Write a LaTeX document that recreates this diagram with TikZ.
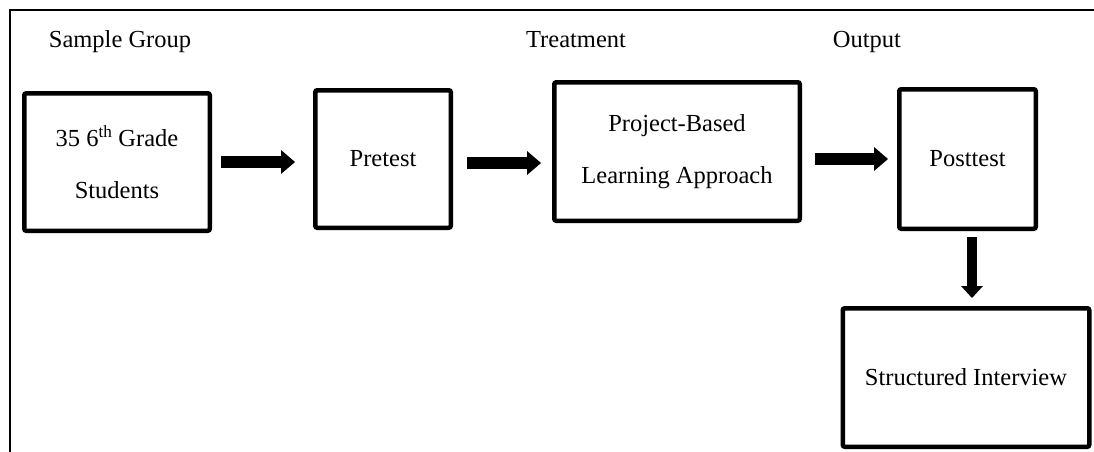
\documentclass[tikz,border=0pt]{standalone}
\usepackage{fontspec}
\setmainfont{Liberation Serif}
\usetikzlibrary{arrows.meta}
\tikzstyle{block} = [rectangle, draw, line width=4.5pt, rounded corners=2pt,
	align=center, inner sep=0pt, font=\fontsize{24.5}{52}\selectfont]
\tikzstyle{heading} = [inner sep=0pt, anchor=base, font=\fontsize{24.5}{30}\selectfont]
\tikzstyle{line} = [draw, line width=12.5pt,
	-{Triangle[length=14pt,width=24pt,line width=0pt]}]

\begin{document}
\begin{tikzpicture}[x=1pt, y=-1pt]
	\useasboundingbox (0,0) rectangle (1094,452);
	% Frame
	\draw[line width=2.5pt] (10,452) -- (10,10) -- (1094,10);
	% Place nodes
	\node [heading] (group) at (120,48) {Sample Group};
	\node [heading] (treatment) at (576,48) {Treatment};
	\node [heading] (output) at (867,48) {Output};
	\node [block, minimum width=185.5pt, minimum height=137.5pt] (students) at (117,162) {35 6\textsuperscript{th} Grade\\Students};
	\node [block, minimum width=135.5pt, minimum height=137.5pt] (pretest) at (383,159) {Pretest};
	\node [block, minimum width=245.5pt, minimum height=138.5pt] (pbl) at (677,151.5) {Project-Based\\Learning Approach};
	\node [block, minimum width=136.5pt, minimum height=139.5pt] (posttest) at (967.5,159) {Posttest};
	\node [block, minimum width=246.5pt, minimum height=138.5pt] (interview) at (966,377.5) {Structured Interview};
	% Draw edges
	\path [line, shorten <=9pt, shorten >=18pt] (students.east) -- (students.east -| pretest.west);
	\path [line, shorten <=14pt, shorten >=11pt] ([yshift=-4pt]pretest.east) -- ([yshift=-4pt]pretest.east -| pbl.west);
	\path [line, shorten <=13pt, shorten >=9pt] (pbl.east |- posttest.west) -- (posttest.west);
	\path [line, line width=10pt, -{Triangle[length=12pt,width=22pt,line width=0pt]}, shorten <=6pt, shorten >=8pt]
		([xshift=4.5pt]posttest.south) -- ([xshift=4.5pt]posttest.south |- interview.north);
\end{tikzpicture}
\end{document}
